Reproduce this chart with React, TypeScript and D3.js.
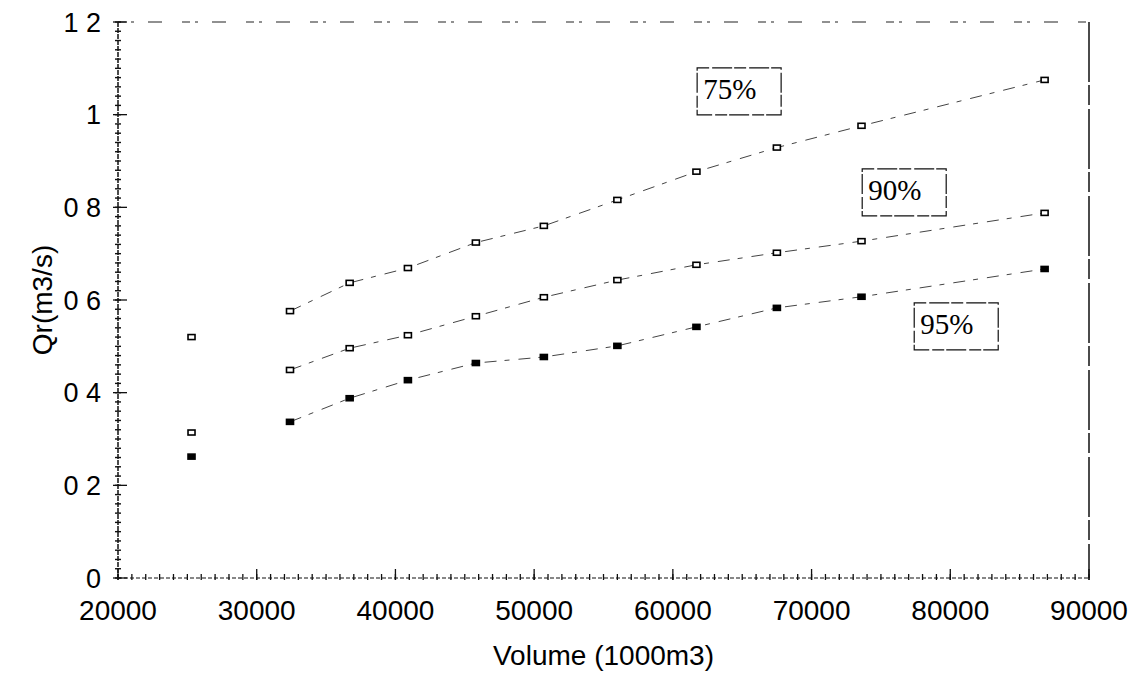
import * as d3 from "d3";
import React, { useRef, useEffect } from "react";

// volume (1000 m3) of each reservoir state
const volumes = [25300, 32400, 36700, 40900, 45800, 50700, 56000, 61700, 67500, 73600, 86800];
// Qr (m3/s) for each frequency
const q75 = [0.52, 0.576, 0.637, 0.669, 0.724, 0.76, 0.816, 0.877, 0.929, 0.976, 1.075];
const q90 = [0.314, 0.449, 0.496, 0.524, 0.565, 0.606, 0.643, 0.676, 0.702, 0.727, 0.788];
const q95 = [0.262, 0.337, 0.388, 0.427, 0.464, 0.477, 0.501, 0.542, 0.583, 0.607, 0.667];

const xTickValues = [20000, 30000, 40000, 50000, 60000, 70000, 80000, 90000];
const yTickValues = [0, 0.2, 0.4, 0.6, 0.8, 1, 1.2];
const yTickLabels = ["0", "0 2", "0 4", "0 6", "0 8", "1", "1 2"];

const seriesNames = ["75%", "90%", "95%"];
// label box anchors (top-left corner, in data units)
const labelX = [61750, 73650, 77400];
const labelY = [1.101, 0.883, 0.594];

export default function App() {
  const svgRef = useRef(null);

  useEffect(() => {
    const width = 1135;
    const height = 678;
    const margin = { top: 22, right: 46, bottom: 100, left: 118 };

    const x = d3.scaleLinear().domain([20000, 90000]).range([margin.left, width - margin.right]);
    const y = d3.scaleLinear().domain([0, 1.2]).range([height - margin.bottom, margin.top]);

    const svg = d3.select(svgRef.current).attr("width", width).attr("height", height);
    svg.selectAll("*").remove();
    svg.append("rect").attr("width", width).attr("height", height).attr("fill", "#fff");

    const font = "'Liberation Sans', Arial, sans-serif";
    const x0 = x(20000), x1 = x(90000), y0 = y(0), y1 = y(1.2);

    // frame: top and right edges are faint / broken in the scan
    svg.append("line").attr("x1", x0).attr("x2", x1).attr("y1", y1).attr("y2", y1)
      .attr("stroke", "#222").attr("stroke-width", 1.2).attr("stroke-dasharray", "8,5,3,14,14,20");
    svg.append("line").attr("x1", x1).attr("x2", x1).attr("y1", y1).attr("y2", y0)
      .attr("stroke", "#111").attr("stroke-width", 1.5).attr("stroke-dasharray", "60,3,20,4");

    // left axis with minor ticks
    svg.append("line").attr("x1", x0).attr("x2", x0).attr("y1", y1).attr("y2", y0)
      .attr("stroke", "#111").attr("stroke-width", 1.5).attr("stroke-dasharray", "5,1");
    svg.append("g").selectAll("line").data(d3.range(0, 60.5, 1).map((i) => i * 0.02))
      .join("line")
      .attr("x1", x0 - 3).attr("x2", x0 + 3)
      .attr("y1", (d) => y(d)).attr("y2", (d) => y(d))
      .attr("stroke", "#111").attr("stroke-width", 1.4);
    svg.append("g").selectAll("line").data(yTickValues).join("line")
      .attr("x1", x0 - 5).attr("x2", x0 + 9)
      .attr("y1", (d) => y(d)).attr("y2", (d) => y(d))
      .attr("stroke", "#111").attr("stroke-width", 1.3);
    svg.append("g").selectAll("text").data(yTickValues).join("text")
      .attr("x", x0 - 17).attr("y", (d) => y(d)).attr("dy", "0.36em")
      .attr("text-anchor", "end").attr("font-family", font).attr("font-size", 27)
      .text((d, i) => yTickLabels[i]);

    // bottom axis with minor ticks
    svg.append("line").attr("x1", x0).attr("x2", x1).attr("y1", y0).attr("y2", y0)
      .attr("stroke", "#111").attr("stroke-width", 1.2).attr("stroke-dasharray", "4,2");
    svg.append("g").selectAll("line").data(d3.range(20000, 90001, 1000)).join("line")
      .attr("x1", (d) => x(d)).attr("x2", (d) => x(d))
      .attr("y1", y0 - 4).attr("y2", y0 + 2)
      .attr("stroke", "#111").attr("stroke-width", 1.3);
    svg.append("g").selectAll("line").data(xTickValues).join("line")
      .attr("x1", (d) => x(d)).attr("x2", (d) => x(d))
      .attr("y1", y0 - 9).attr("y2", y0 + 2)
      .attr("stroke", "#111").attr("stroke-width", 1.3);
    svg.append("g").selectAll("text").data(xTickValues).join("text")
      .attr("x", (d) => x(d)).attr("y", y0 + 42)
      .attr("text-anchor", "middle").attr("font-family", font).attr("font-size", 28)
      .text((d) => String(d));

    // axis titles
    svg.append("text").attr("x", (x0 + x1) / 2).attr("y", y0 + 87)
      .attr("text-anchor", "middle").attr("font-family", font).attr("font-size", 28)
      .text("Volume (1000m3)");
    svg.append("text").attr("transform", `translate(52,${(y0 + y1) / 2}) rotate(-90)`)
      .attr("text-anchor", "middle").attr("font-family", font).attr("font-size", 28)
      .text("Qr(m3/s)");

    // series
    const series = [q75, q90, q95];
    const line = d3.line().x((d) => x(d[0])).y((d) => y(d[1]));
    series.forEach((vals, s) => {
      const pts = volumes.map((v, i) => [v, vals[i]]);
      svg.append("path").datum(pts.slice(1)).attr("d", line)
        .attr("fill", "none").attr("stroke", "#444").attr("stroke-width", 1)
        .attr("stroke-dasharray", "12,8,5,9");
      svg.append("g").selectAll("rect").data(pts).join("rect")
        .attr("x", (d) => x(d[0]) - 3.5).attr("y", (d) => y(d[1]) - 2.5)
        .attr("width", 7).attr("height", 5)
        .attr("fill", s === 2 ? "#000" : "#fff")
        .attr("stroke", "#000").attr("stroke-width", 1.6);
    });

    // boxed labels
    seriesNames.forEach((name, i) => {
      const bx = x(labelX[i]);
      const by = y(labelY[i]);
      const g = svg.append("g");
      g.append("rect").attr("x", bx).attr("y", by).attr("width", 84).attr("height", 47)
        .attr("fill", "#fff").attr("stroke", "#111").attr("stroke-width", 1.2)
        .attr("stroke-dasharray", "12,3,20,2");
      g.append("text").attr("x", bx + 6).attr("y", by + 31)
        .attr("font-family", "'Liberation Serif', 'Times New Roman', serif").attr("font-size", 29)
        .text(name);
    });
  }, []);

  return <svg ref={svgRef} style={{ position: "absolute", left: 0, top: 0 }}></svg>;
}
